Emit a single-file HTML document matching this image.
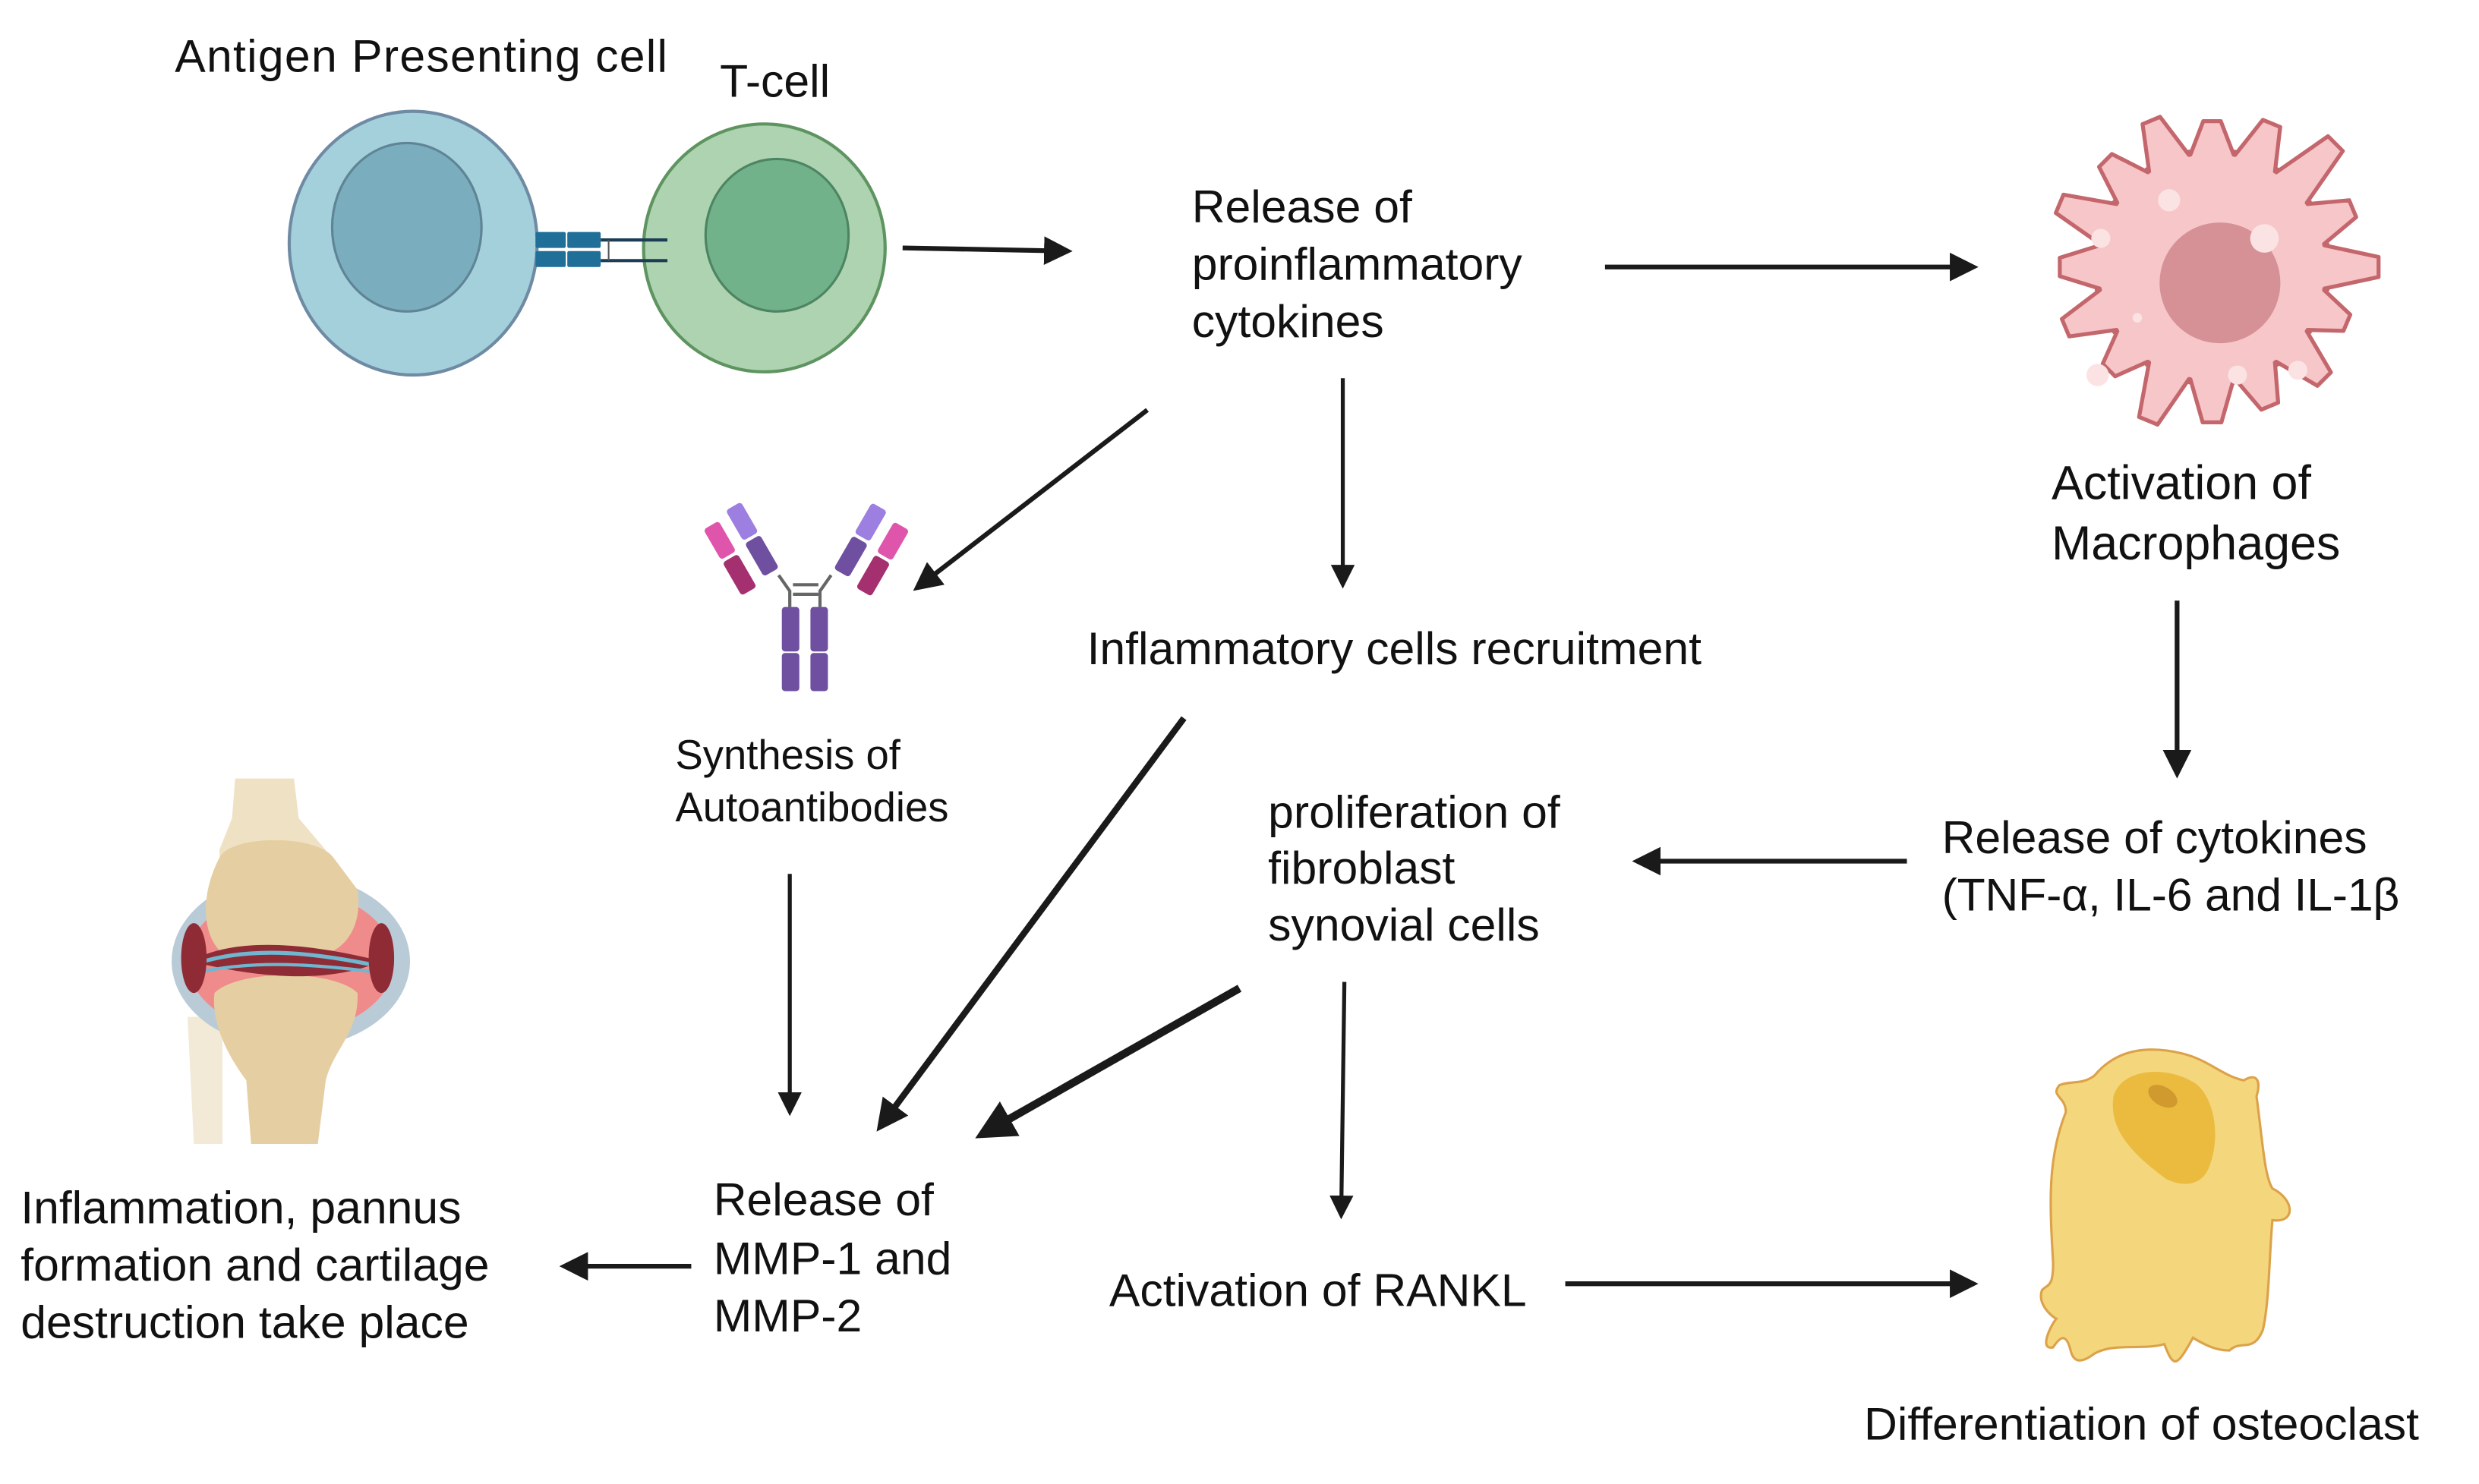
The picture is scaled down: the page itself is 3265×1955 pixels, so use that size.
<!DOCTYPE html>
<html><head><meta charset="utf-8">
<style>
html,body{margin:0;padding:0;background:#fff;}
svg{display:block;}
text{font-family:"Liberation Sans",sans-serif;fill:#111;}
</style></head>
<body>
<svg id="s" width="3265" height="1955" viewBox="0 0 1560 934" xmlns="http://www.w3.org/2000/svg">
<defs>
<marker id="ah" markerWidth="6" markerHeight="6" refX="5" refY="3" orient="auto" markerUnits="strokeWidth">
<path d="M0,0 L6,3 L0,6 z" fill="#1a1a1a"/></marker>
<marker id="ah2" markerWidth="5" markerHeight="5" refX="4" refY="2.5" orient="auto" markerUnits="strokeWidth">
<path d="M0,0 L5,2.5 L0,5 z" fill="#1a1a1a"/></marker>
</defs>

<!-- APC -->
<ellipse cx="260" cy="153" rx="78" ry="83" fill="#a4d0dc" stroke="#6f8ba4" stroke-width="2"/>
<ellipse cx="256" cy="143" rx="47" ry="53" fill="#7aadbe" stroke="#5f8495" stroke-width="1.5"/>
<!-- T cell -->
<ellipse cx="481" cy="156" rx="76" ry="78" fill="#aed3b1" stroke="#5e9460" stroke-width="2"/>
<ellipse cx="489" cy="148" rx="45" ry="48" fill="#72b28a" stroke="#4d8563" stroke-width="1.5"/>
<!-- receptor -->
<rect x="337" y="146" width="19" height="10" rx="1" fill="#1f6f99"/>
<rect x="357" y="146" width="21" height="10" rx="1" fill="#1f6f99"/>
<rect x="337" y="158" width="19" height="10" rx="1" fill="#1f6f99"/>
<rect x="357" y="158" width="21" height="10" rx="1" fill="#1f6f99"/>
<line x1="378" y1="151" x2="420" y2="151" stroke="#1c3d55" stroke-width="2"/>
<line x1="378" y1="164" x2="420" y2="164" stroke="#1c3d55" stroke-width="2"/>
<line x1="383" y1="151" x2="383" y2="164" stroke="#555" stroke-width="1"/>

<text x="110" y="45" font-size="29" textLength="310">Antigen Presenting cell</text>
<text x="453" y="61" font-size="29">T-cell</text>

<!-- arrows -->
<g stroke="#1a1a1a" fill="none">
<line x1="568" y1="156" x2="672" y2="158" stroke-width="3" marker-end="url(#ah)"/>
<line x1="1010" y1="168" x2="1242" y2="168" stroke-width="3" marker-end="url(#ah)"/>
<line x1="1370" y1="378" x2="1370" y2="487" stroke-width="3" marker-end="url(#ah)"/>
<line x1="1200" y1="542" x2="1030" y2="542" stroke-width="3" marker-end="url(#ah)"/>
<line x1="845" y1="238" x2="845" y2="368" stroke-width="2.5" marker-end="url(#ah)"/>
<line x1="722" y1="258" x2="577" y2="370" stroke-width="3" marker-end="url(#ah)"/>
<line x1="497" y1="550" x2="497" y2="700" stroke-width="2.5" marker-end="url(#ah)"/>
<line x1="745" y1="452" x2="554" y2="709" stroke-width="4" marker-end="url(#ah2)"/>
<line x1="780" y1="622" x2="618" y2="714" stroke-width="5" marker-end="url(#ah2)"/>
<line x1="846" y1="618" x2="844" y2="765" stroke-width="2.5" marker-end="url(#ah)"/>
<line x1="435" y1="797" x2="355" y2="797" stroke-width="3" marker-end="url(#ah)"/>
<line x1="985" y1="808" x2="1242" y2="808" stroke-width="3" marker-end="url(#ah)"/>
</g>

<!-- texts -->
<g font-size="29">
<text x="750" y="140">Release of</text>
<text x="750" y="176">proinflammatory</text>
<text x="750" y="212">cytokines</text>
<text x="1291" y="314" font-size="30">Activation of</text>
<text x="1291" y="352" font-size="30">Macrophages</text>
<text x="684" y="418">Inflammatory cells recruitment</text>
<text x="425" y="484" font-size="26">Synthesis of</text>
<text x="425" y="517" font-size="26">Autoantibodies</text>
<text x="1222" y="537">Release of cytokines</text>
<text x="1222" y="573" textLength="288">(TNF-α, IL-6 and IL-1β</text>
<text x="798" y="521">proliferation of</text>
<text x="798" y="556">fibroblast</text>
<text x="798" y="592">synovial cells</text>
<text x="449" y="765">Release of</text>
<text x="449" y="802">MMP-1 and</text>
<text x="449" y="838">MMP-2</text>
<text x="13" y="770">Inflammation, pannus</text>
<text x="13" y="806">formation  and cartilage</text>
<text x="13" y="842">destruction take place</text>
<text x="698" y="822">Activation of RANKL</text>
<text x="1173" y="906">Differentiation of osteoclast</text>
</g>

<!-- Antibody -->
<g>
<rect x="492" y="382" width="11" height="28" rx="2" fill="#6e4fa0"/>
<rect x="510" y="382" width="11" height="28" rx="2" fill="#6e4fa0"/>
<rect x="492" y="411" width="11" height="24" rx="2" fill="#6e4fa0"/>
<rect x="510" y="411" width="11" height="24" rx="2" fill="#6e4fa0"/>
<line x1="499" y1="368" x2="515" y2="368" stroke="#666" stroke-width="2"/>
<line x1="499" y1="374" x2="515" y2="374" stroke="#666" stroke-width="2"/>
<path d="M497,382 L497,372 L490,362 M516,382 L516,372 L523,362" stroke="#666" stroke-width="2" fill="none"/>
<g transform="translate(479,350) rotate(-30)"><rect x="-5" y="-12" width="11" height="24" rx="2" fill="#6e4fa0"/><rect x="-5" y="-36" width="11" height="22" rx="2" fill="#9c7fe0"/></g>
<g transform="translate(465,362) rotate(-30)"><rect x="-5" y="-12" width="11" height="24" rx="2" fill="#a5306f"/><rect x="-5" y="-36" width="11" height="22" rx="2" fill="#e055ac"/></g>
<g transform="translate(535,350) rotate(30)"><rect x="-5" y="-12" width="11" height="24" rx="2" fill="#6e4fa0"/><rect x="-5" y="-36" width="11" height="22" rx="2" fill="#9c7fe0"/></g>
<g transform="translate(549,362) rotate(30)"><rect x="-5" y="-12" width="11" height="24" rx="2" fill="#a5306f"/><rect x="-5" y="-36" width="11" height="22" rx="2" fill="#e055ac"/></g>
</g>

<!-- Macrophage -->
<polygon id="mac" fill="#f6c6c9" stroke="#c4676d" stroke-width="2.5" stroke-linejoin="round" points=""/>
<circle cx="1397" cy="178" r="38" fill="#d69196"/>
<g fill="#fbe3e4">
<circle cx="1365" cy="126" r="7"/><circle cx="1425" cy="150" r="9"/><circle cx="1322" cy="150" r="6"/>
<circle cx="1320" cy="236" r="7"/><circle cx="1408" cy="236" r="6"/><circle cx="1446" cy="233" r="6"/><circle cx="1345" cy="200" r="3"/>
</g>

<!-- Osteoclast -->
<path d="M1300,700 C1300,690 1290,690 1296,683 C1303,680 1310,683 1318,677 C1332,660 1352,658 1373,663 C1390,667 1398,677 1412,680 C1420,675 1423,680 1420,690 C1424,720 1425,740 1430,748 C1444,755 1445,770 1430,768 C1428,790 1428,820 1424,837 C1418,852 1410,843 1403,850 C1396,850 1390,848 1380,842 C1370,860 1368,862 1362,846 C1348,850 1330,845 1318,852 C1310,858 1305,858 1303,850 C1300,838 1296,842 1292,848 C1283,850 1290,835 1294,830 C1290,828 1282,820 1285,812 C1289,808 1292,810 1292,795 C1290,760 1288,730 1300,700 Z" fill="#f4d67c" stroke="#dca24a" stroke-width="1.5"/>
<path d="M1330,690 C1335,672 1365,670 1383,683 C1393,692 1398,715 1390,735 C1385,747 1373,747 1363,742 C1340,725 1327,710 1330,690 Z" fill="#ebbb40"/>
<ellipse cx="1361" cy="690" rx="10" ry="6" transform="rotate(30 1361 690)" fill="#d19a2e"/>

<!-- Knee -->
<g>
<path d="M148,490 L185,490 L188,515 L205,535 L208,560 L140,560 L138,535 L146,515 Z" fill="#efe2c4"/>
<path d="M118,640 L140,640 L140,720 L122,720 Z" fill="#f2ead7"/>
<ellipse cx="183" cy="605" rx="75" ry="55" fill="#b9cbd6"/>
<ellipse cx="183" cy="605" rx="65" ry="45" fill="#f08b8b"/>
<path d="M138,540 C145,525 200,525 210,540 L225,560 C228,580 220,598 200,602 C180,598 160,600 140,600 C128,590 125,565 138,540 Z" fill="#e5cfa2"/>
<path d="M135,625 C150,610 210,610 225,625 C226,650 210,660 205,680 L200,720 L158,720 L155,680 C140,660 133,640 135,625 Z" fill="#e5cfa2"/>
<path d="M120,605 C150,588 200,595 240,605 C205,620 160,615 120,605 Z" fill="#8e2b35"/>
<path d="M125,606 C160,595 200,600 238,608" stroke="#6fb6d0" stroke-width="2.5" fill="none"/>
<path d="M125,612 C160,604 200,607 238,612" stroke="#6fb6d0" stroke-width="2" fill="none"/>
<ellipse cx="122" cy="603" rx="8" ry="22" fill="#8e2b35"/>
<ellipse cx="240" cy="603" rx="8" ry="22" fill="#8e2b35"/>
</g>
</svg>
<script>
(function(){
var cx=1392,cy=168,pts=[],n=16;
var spikes=[105,92,100,95,98,105,92,100,96,104,95,100,92,98,110,96];
for(var i=0;i<n;i++){
 var a0=(i/n)*Math.PI*2, a1=((i+0.5)/n)*Math.PI*2;
 var ro=spikes[i], ri=72;
 var aL=a0-0.06, aR=a0+0.06;
 pts.push((cx+ri*Math.cos(a0-0.19)).toFixed(1)+","+(cy+ri*Math.sin(a0-0.19)).toFixed(1));
 pts.push((cx+ro*Math.cos(aL)).toFixed(1)+","+(cy+ro*Math.sin(aL)).toFixed(1));
 pts.push((cx+ro*Math.cos(aR)).toFixed(1)+","+(cy+ro*Math.sin(aR)).toFixed(1));
 pts.push((cx+ri*Math.cos(a0+0.19)).toFixed(1)+","+(cy+ri*Math.sin(a0+0.19)).toFixed(1));
 pts.push((cx+(ri+2)*Math.cos(a1)).toFixed(1)+","+(cy+(ri+2)*Math.sin(a1)).toFixed(1));
}
document.getElementById('mac').setAttribute('points',pts.join(' '));
})();
</script>
</body></html>
